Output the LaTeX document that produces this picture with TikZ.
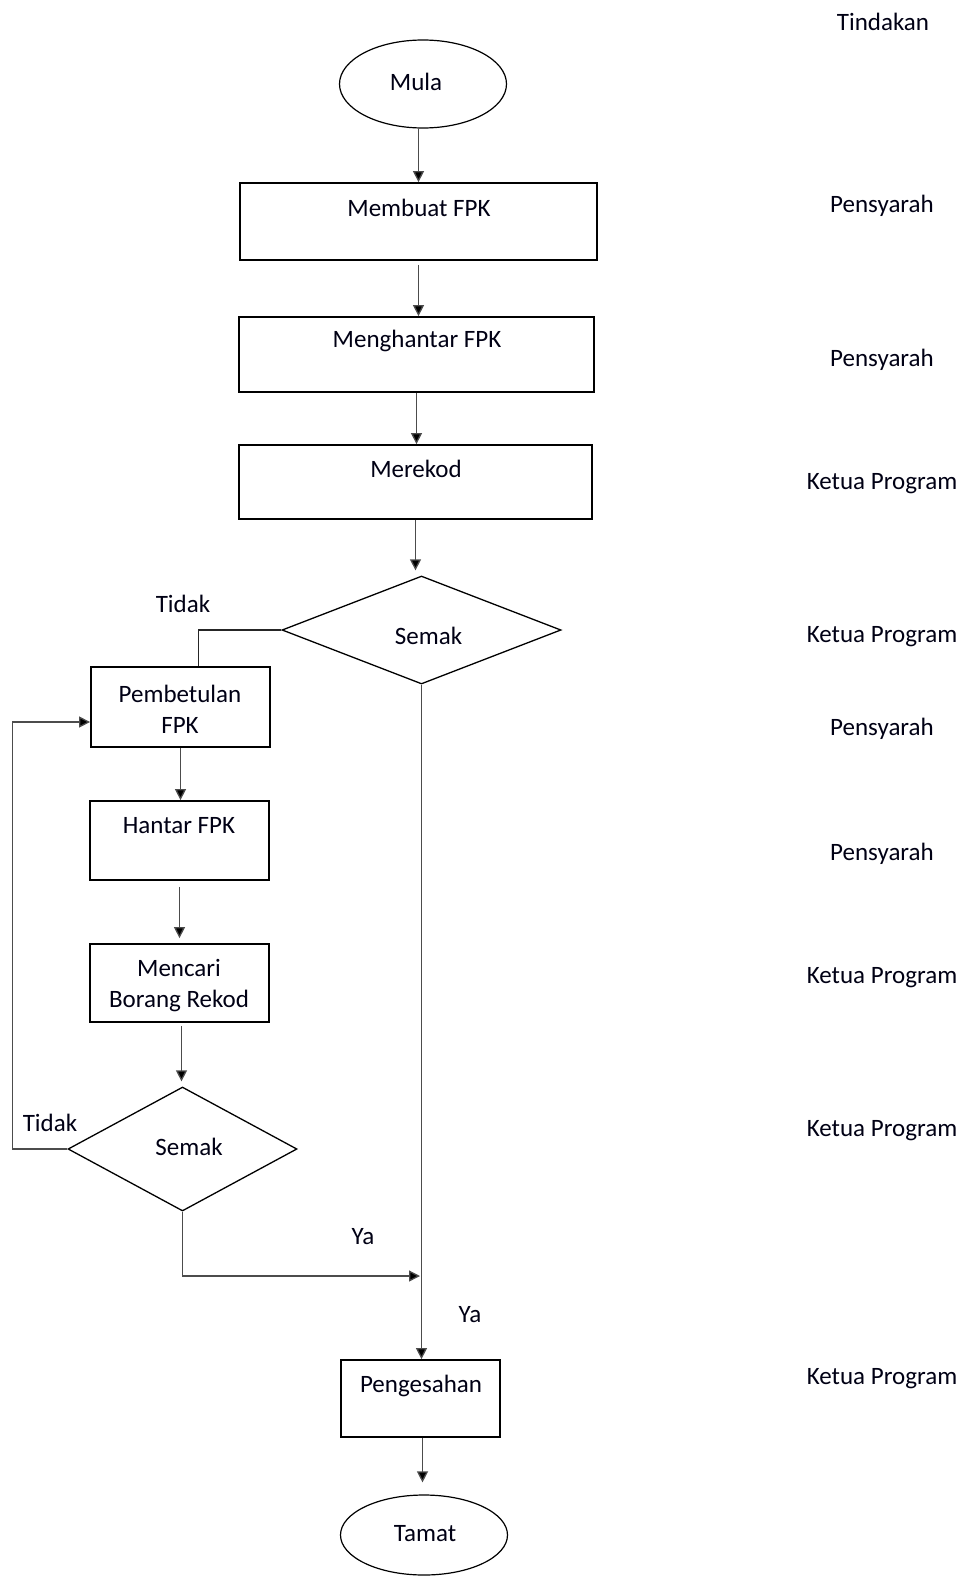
\documentclass[tikz,border=0pt]{standalone}
\usepackage{fontspec}
\setmainfont{Carlito}
\usetikzlibrary{arrows.meta,positioning,shapes.geometric}

\begin{document}
\begin{tikzpicture}[x=1pt,y=-1pt]
		\tikzstyle{txt}=[inner sep=0pt,font=\fontsize{25}{31}\selectfont,text=black!92!blue,align=center]
		\tikzstyle{terminal}=[ellipse,draw,line width=1.2pt,inner sep=0pt,minimum width=167pt]
		\tikzstyle{process}=[rectangle,draw,line width=1.8pt,inner sep=0pt]
		\tikzstyle{decision}=[diamond,draw,line width=1.3pt,inner sep=0pt]
		\tikzstyle{flow}=[line width=1.3pt,black!70,arrows={-Triangle[width=11pt,length=11pt,fill=black]}]
		\tikzstyle{plain}=[line width=1.8pt,black!85]
		
		\useasboundingbox (0,0) rectangle (965,1577);
		
		% main column
		\node[terminal, minimum height=88pt] (mula) at (423,84) {};
		\node[txt] (mulaT) at (416,82) {Mula};
		
		\node[process, minimum width=357pt, minimum height=77pt] (membuat) at (418.5,221.5) {};
		\node[txt] (membuatT) at (419,208) {Membuat FPK};
		
		\node[process, minimum width=355pt, minimum height=75pt] (menghantar) at (416.5,354.5) {};
		\node[txt] (menghantarT) at (417,341) {Menghantar FPK};
		
		\node[process, minimum width=353pt, minimum height=74pt] (merekod) at (415.5,482) {};
		\node[txt] (merekodT) at (416,469) {Merekod};
		
		\node[decision, minimum width=279pt, minimum height=108pt] (semakA) at (421.5,630) {};
		\node[txt] (semakAT) at (428.5,636) {Semak};
		
		% left loop
		\node[process, minimum width=179pt, minimum height=80pt] (pembetulan) at (180.5,707) {};
		\node[txt] (pembetulanT) at (180,709) {Pembetulan\\FPK};
		
		\node[process, minimum width=179pt, minimum height=79pt] (hantar) at (179.5,840.5) {};
		\node[txt] (hantarT) at (179,826) {Hantar FPK};
		
		\node[process, minimum width=179pt, minimum height=78pt] (mencari) at (179.5,983) {};
		\node[txt] (mencariT) at (179,986) {Mencari\\Borang Rekod};
		
		\node[decision, minimum width=229pt, minimum height=124pt] (semakB) at (182.5,1149) {};
		\node[txt] (semakBT) at (189,1147) {Semak};
		
		\node[process, minimum width=159pt, minimum height=77pt] (pengesahan) at (420.5,1398.5) {};
		\node[txt] (pengesahanT) at (421,1386) {Pengesahan};
		
		\node[terminal, minimum height=80pt] (tamat) at (424,1535) {};
		\node[txt] (tamatT) at (425,1534) {Tamat};
		
		\coordinate (join) at (420,1276);
		
		% labels on connectors
		\node[txt] (tidakA) at (183,604) {Tidak};
		\node[txt] (tidakB) at (50,1123) {Tidak};
		\node[txt] (yaA) at (363,1237) {Ya};
		\node[txt] (yaB) at (470,1315) {Ya};
		
		% action column
		\node[txt] (tindakan) at (883,22) {Tindakan};
		\node[txt] (act1) at (882,206) {Pensyarah};
		\node[txt] (act2) at (882,360) {Pensyarah};
		\node[txt] (act3) at (882,484) {Ketua Program};
		\node[txt] (act4) at (882,637) {Ketua Program};
		\node[txt] (act5) at (882,729) {Pensyarah};
		\node[txt] (act6) at (882,854) {Pensyarah};
		\node[txt] (act7) at (882,978) {Ketua Program};
		\node[txt] (act8) at (882,1131) {Ketua Program};
		\node[txt] (act9) at (882,1379) {Ketua Program};
		
		% connectors
		\draw [flow] (membuat.north |- mula.south) -- (membuat.north);
		\draw [flow, shorten <=4pt] (membuat.south) -- (membuat.south |- menghantar.north);
		\draw [flow] (menghantar.south) -- (menghantar.south |- merekod.north);
		\draw [flow, shorten >=5pt] (merekod.south) -- (merekod.south |- semakA.north);
		\draw [plain] (semakA.west) -| ([xshift=18pt]pembetulan.north);
		\draw [flow] (pembetulan.south) -- (pembetulan.south |- hantar.north);
		\draw [flow, shorten <=6pt, shorten >=5pt] (hantar.south) -- (mencari.north);
		\draw [flow, shorten <=3pt, shorten >=5pt] ([xshift=2pt]mencari.south) -- ([xshift=2pt]mencari.south |- semakB.north);
		\draw [flow] (semakB.west) -- ++(-55,0) |- ([yshift=-15pt]pembetulan.west);
		\draw [flow] (semakB.south) |- (join);
		\draw [flow] (semakA.south) -- (semakA.south |- pengesahan.north);
		\draw [flow, shorten >=12pt] ([xshift=2pt]pengesahan.south) -- ([xshift=2pt]pengesahan.south |- tamat.north);
\end{tikzpicture}
\end{document}
